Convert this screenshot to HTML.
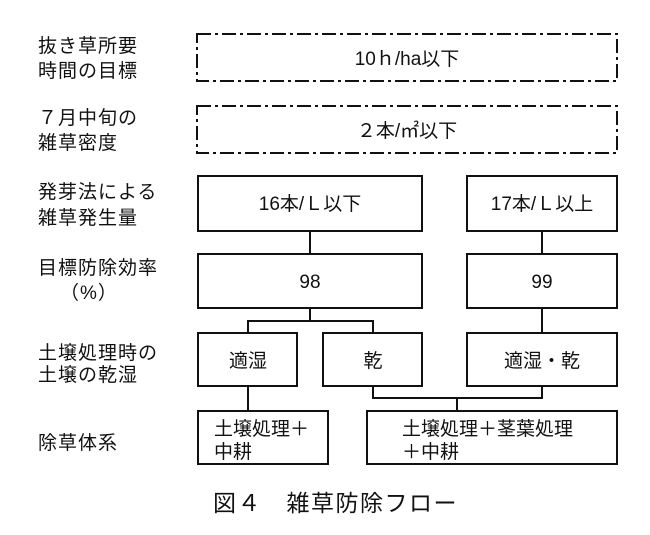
<!DOCTYPE html>
<html><head><meta charset="utf-8"><style>
html,body{margin:0;padding:0;background:#fff;}
svg{display:block;}
text{font-family:"Liberation Sans","Noto Sans CJK JP",sans-serif;fill:#111;}
</style></head><body>
<svg width="650" height="535" viewBox="0 0 650 535" xmlns="http://www.w3.org/2000/svg">
<g font-size="19" letter-spacing="1">
<text x="38" y="52">抜き草所要</text>
<text x="38" y="77">時間の目標</text>
<text x="38" y="124">７月中旬の</text>
<text x="38" y="149">雑草密度</text>
<text x="38" y="198">発芽法による</text>
<text x="38" y="224">雑草発生量</text>
<text x="38" y="274">目標防除効率</text>
<text x="60" y="299">（%）</text>
<text x="38" y="359">土壌処理時の</text>
<text x="38" y="381">土壌の乾湿</text>
<text x="38" y="449">除草体系</text>
</g>
<g fill="none" stroke="#111" stroke-width="2">
<rect x="197" y="34" width="420" height="47" stroke-dasharray="14,4,3,4"/>
<rect x="197" y="106" width="420" height="47" stroke-dasharray="14,4,3,4"/>
<rect x="198" y="176" width="224" height="55"/>
<rect x="467" y="176" width="150" height="55"/>
<rect x="198" y="254" width="224" height="54"/>
<rect x="467" y="254" width="150" height="54"/>
<rect x="198" y="333" width="99" height="53"/>
<rect x="323" y="333" width="99" height="53"/>
<rect x="467" y="333" width="150" height="53"/>
<rect x="198" y="411" width="130" height="53"/>
<rect x="367" y="411" width="250" height="53"/>
<path d="M310 231V254M542 231V254M310 308V321M248 333V321H373V333M542 308V333M248 386V411M373 386V398H542V386M457 398V411"/>
</g>
<g font-size="19" text-anchor="middle">
<text x="407" y="65">10ｈ/ha以下</text>
<text x="407" y="137">２本/㎡以下</text>
<text x="310" y="210">16本/Ｌ以下</text>
<text x="542" y="210">17本/Ｌ以上</text>
<text x="310" y="288">98</text>
<text x="542" y="288">99</text>
<text x="248" y="367">適湿</text>
<text x="373" y="367">乾</text>
<text x="542" y="367">適湿・乾</text>
</g>
<g font-size="19">
<text x="214" y="435">土壌処理＋</text>
<text x="214" y="458">中耕</text>
<text x="402" y="435">土壌処理＋茎葉処理</text>
<text x="402" y="458">＋中耕</text>
</g>
<text x="213" y="511" font-size="23" letter-spacing="1.5">図４　雑草防除フロー</text>
</svg>
</body></html>
